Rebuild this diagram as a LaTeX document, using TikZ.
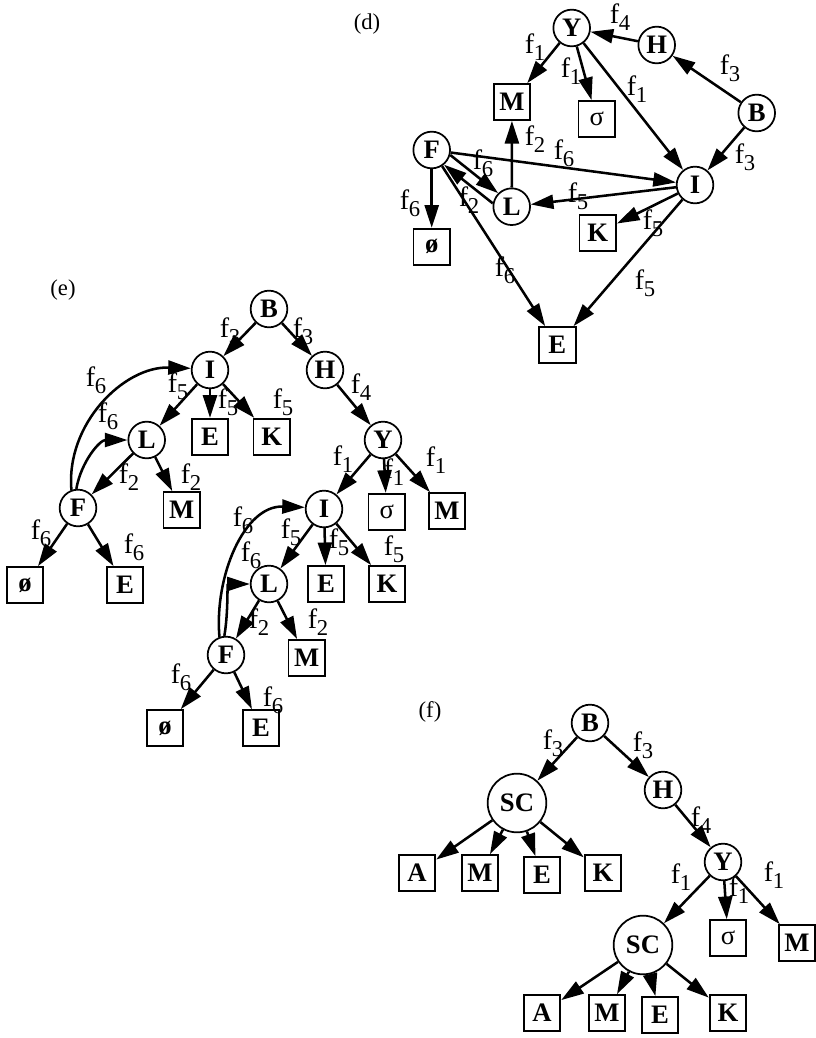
\documentclass[tikz,border=0pt]{standalone}
\usepackage{fontspec}
\setmainfont{Liberation Serif}
\usetikzlibrary{arrows.meta}
\newcommand{\fl}[1]{f\kern-0.3pt\raisebox{-0.55ex}{\fontsize{17}{17}\selectfont #1}}
\begin{document}
\begin{tikzpicture}[x=0.75pt,y=-0.75pt,
 cn/.style={circle,draw,line width=1.3pt,minimum size=27.5pt,inner sep=0pt,font=\fontsize{20}{20}\selectfont\bfseries},
 bigcn/.style={cn,minimum size=44pt},
 bx/.style={rectangle,draw,line width=1.3pt,minimum width=27.5pt,minimum height=27pt,inner sep=0pt,font=\fontsize{20}{20}\selectfont\bfseries},
 arr/.style={line width=1.9pt,-{Triangle[length=17pt,width=10.5pt]}},
 lb/.style={font=\fontsize{21}{21}\selectfont,inner sep=0pt},
 tag/.style={font=\fontsize{17}{17}\selectfont,inner sep=0pt}]
\useasboundingbox (0,0) rectangle (815,1038);

% ---------------- (d)
\node[tag] (dtag) at (367,24) {(d)};
\node[cn] (dY) at (571.7,28) {Y};
\node[cn] (dH) at (656.7,45) {H};
\node[cn] (dB) at (756.7,113) {B};
\node[bx] (dM) at (512,102) {M};
\node[bx,font=\fontsize{20}{20}\selectfont] (ds) at (596.7,119) {σ};
\node[cn] (dF) at (431.7,150) {F};
\node[cn] (dL) at (511.7,206.7) {L};
\node[cn] (dI) at (695,185) {I};
\node[bx] (dK) at (597.7,233) {K};
\node[bx] (do) at (431.7,246.7) {ø};
\node[bx] (dE) at (557.3,345) {E};

\draw[arr] (dH) -- (dY);
\draw[arr] (dB) -- (dH);
\draw[arr] (dB) -- (dI);
\draw[arr] (dY) -- (dM);
\draw[arr] (dY) -- (ds);
\draw[arr] (dY) -- (dI);
\draw[arr] (dF) -- (dI);
\draw[arr] (dF.-15) -- (dL.135);
\draw[arr] (dL.170) -- (dF.-50);
\draw[arr] (dL) -- (dM);
\draw[arr] (dI) -- (dL);
\draw[arr] (dI) -- (dK);
\draw[arr] (dI) -- (dE);
\draw[arr] (dF) -- (do);
\draw[arr] (dF) -- (dE);

\node[lb] (dl1) at (620,17) {\fl4};
\node[lb] (dl2) at (730,68) {\fl3};
\node[lb] (dl3) at (535,47) {\fl1};
\node[lb] (dl4) at (571,71) {\fl1};
\node[lb] (dl5) at (637,89) {\fl1};
\node[lb] (dl6) at (745,157) {\fl3};
\node[lb] (dl7) at (535,139) {\fl2};
\node[lb] (dl8) at (564,153) {\fl6};
\node[lb] (dl9) at (483,163) {\fl6};
\node[lb] (dl10) at (469,200) {\fl2};
\node[lb] (dl11) at (578,196) {\fl5};
\node[lb] (dl12) at (653,223) {\fl5};
\node[lb] (dl13) at (410,203) {\fl6};
\node[lb] (dl14) at (505,270) {\fl6};
\node[lb] (dl15) at (645,283) {\fl5};

% ---------------- (e)
\node[tag] (etag) at (63,290) {(e)};
\node[cn] (eB) at (269,309) {B};
\node[cn] (eI) at (210,370) {I};
\node[cn] (eH) at (325,370) {H};
\node[cn] (eL) at (146.7,440) {L};
\node[bx] (eE) at (210,436.7) {E};
\node[bx] (eK) at (271.7,436.7) {K};
\node[cn] (eY) at (383,440) {Y};
\node[cn] (eF) at (78,508) {F};
\node[bx] (eM) at (181.7,510) {M};
\node[cn] (eI2) at (324,509) {I};
\node[bx,font=\fontsize{20}{20}\selectfont] (es) at (386.7,511.7) {σ};
\node[bx] (eMr) at (447,511) {M};
\node[bx] (eo) at (25,585) {ø};
\node[bx] (eE1) at (125,585) {E};
\node[cn] (eL2) at (269,584) {L};
\node[bx] (eE2) at (326,584) {E};
\node[bx] (eK2) at (387,584) {K};
\node[cn] (eF2) at (226,655) {F};
\node[bx] (eM2) at (306.7,658) {M};
\node[bx] (eo2) at (165,728) {ø};
\node[bx] (eE3) at (261,728) {E};

\draw[arr] (eB) -- (eI);
\draw[arr] (eB) -- (eH);
\draw[arr] (eI) -- (eL);
\draw[arr] (eI) -- (eE);
\draw[arr] (eI) -- (eK);
\draw[arr] (eH) -- (eY);
\draw[arr] (eL) -- (eF);
\draw[arr] (eL) -- (eM);
\draw[arr] (eF) -- (eo);
\draw[arr] (eF) -- (eE1);
\draw[arr] (eF.110) to[out=95,in=178] (eI.175);
\draw[arr] (eF.95) to[out=80,in=180] (eL.180);
\draw[arr] (eY) -- (eI2);
\draw[arr] (eY) -- (es);
\draw[arr] (eY) -- (eMr);
\draw[arr] (eI2) -- (eL2);
\draw[arr] (eI2) -- (eE2);
\draw[arr] (eI2) -- (eK2);
\draw[arr] (eL2) -- (eF2);
\draw[arr] (eL2) -- (eM2);
\draw[arr] (eF2) -- (eo2);
\draw[arr] (eF2) -- (eE3);
\draw[arr] (eF2.110) to[out=95,in=178] (eI2.175);
\draw[arr] (eF2.95) to[out=80,in=180] (eL2.180);

\node[lb] (el1) at (230,331) {\fl3};
\node[lb] (el2) at (303,331) {\fl3};
\node[lb] (el3) at (96,380) {\fl6};
\node[lb] (el4) at (178,386) {\fl5};
\node[lb] (el5) at (228,402) {\fl5};
\node[lb] (el6) at (283,402) {\fl5};
\node[lb] (el7) at (108,416) {\fl6};
\node[lb] (el8) at (361,387) {\fl4};
\node[lb] (el9) at (129,477) {\fl2};
\node[lb] (el10) at (191,477) {\fl2};
\node[lb] (el11) at (343,459) {\fl1};
\node[lb] (el12) at (394,472) {\fl1};
\node[lb] (el13) at (436,460) {\fl1};
\node[lb] (el14) at (41,533) {\fl6};
\node[lb] (el15) at (134,547) {\fl6};
\node[lb] (el16) at (243,520) {\fl6};
\node[lb] (el17) at (291,532) {\fl5};
\node[lb] (el18) at (339,542) {\fl5};
\node[lb] (el19) at (394,549) {\fl5};
\node[lb] (el20) at (251,555) {\fl6};
\node[lb] (el21) at (259,622) {\fl2};
\node[lb] (el22) at (318,622) {\fl2};
\node[lb] (el23) at (181,677) {\fl6};
\node[lb] (el24) at (273,700) {\fl6};

% ---------------- (f)
\node[tag] (ftag) at (430,712) {(f)};
\node[cn] (fB) at (590,723) {B};
\node[bigcn] (fSC) at (517,803) {SC};
\node[cn] (fH) at (663,790) {H};
\node[bx] (fA) at (417,873) {A};
\node[bx] (fM) at (480,873) {M};
\node[bx] (fE) at (542,875) {E};
\node[bx] (fK) at (603,873) {K};
\node[cn] (fY) at (723,862) {Y};
\node[bigcn] (fSC2) at (643,945) {SC};
\node[bx,font=\fontsize{20}{20}\selectfont] (fs) at (728,938) {σ};
\node[bx] (fMr) at (797,943) {M};
\node[bx] (fA2) at (542,1013) {A};
\node[bx] (fM2) at (607,1013) {M};
\node[bx] (fE2) at (660,1015) {E};
\node[bx] (fK2) at (728,1013) {K};

\draw[arr] (fB) -- (fSC);
\draw[arr] (fB) -- (fH);
\draw[arr] (fSC) -- (fA);
\draw[arr] (fSC) -- (fM);
\draw[arr] (fSC) -- (fE);
\draw[arr] (fSC) -- (fK);
\draw[arr] (fH) -- (fY);
\draw[arr] (fY) -- (fSC2);
\draw[arr] (fY) -- (fs);
\draw[arr] (fY) -- (fMr);
\draw[arr] (fSC2) -- (fA2);
\draw[arr] (fSC2) -- (fM2);
\draw[arr] (fSC2) -- (fE2);
\draw[arr] (fSC2) -- (fK2);

\node[lb] (fl1) at (553,743) {\fl3};
\node[lb] (fl2) at (643,745) {\fl3};
\node[lb] (fl3) at (701,820) {\fl4};
\node[lb] (fl4) at (681,877) {\fl1};
\node[lb] (fl5) at (739,890) {\fl1};
\node[lb] (fl6) at (774,875) {\fl1};
\end{tikzpicture}
\end{document}
